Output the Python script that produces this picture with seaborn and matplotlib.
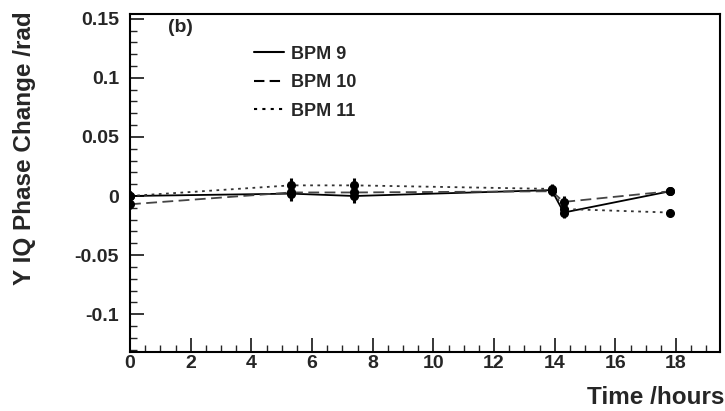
import matplotlib
matplotlib.use("Agg")
import matplotlib.pyplot as plt
import seaborn as sns
import pandas as pd
from matplotlib.ticker import MultipleLocator
from matplotlib.lines import Line2D

time_h = [0.0, 5.3, 7.4, 13.9, 14.3, 17.8]
bpm9 = [0.000, 0.002, 0.000, 0.005, -0.014, 0.004]
bpm10 = [-0.007, 0.003, 0.003, 0.004, -0.005, 0.004]
bpm11 = [0.000, 0.009, 0.009, 0.006, -0.011, -0.014]
err = [0.004, 0.006, 0.006, 0.004, 0.005, 0.003]
series_names = ["BPM 9", "BPM 10", "BPM 11"]
x_ticks = [0, 2, 4, 6, 8, 10, 12, 14, 16, 18]
y_ticks = [-0.1, -0.05, 0, 0.05, 0.1, 0.15]
y_tick_labels = ["-0.1", "-0.05", "0", "0.05", "0.1", "0.15"]

sns.set_theme(style="ticks")
plt.rcParams['font.family'] = ['Liberation Sans', 'DejaVu Sans']

df = pd.DataFrame({
    "time": time_h * 3,
    "phase": bpm9 + bpm10 + bpm11,
    "bpm": sum([[n] * len(time_h) for n in series_names], []),
})

fig = plt.figure(figsize=(7.25, 4.11), dpi=100)
# axes: x 130..720 px, y 14..352 px
ax = fig.add_axes([130 / 725, (411 - 352) / 411, 590 / 725, 338 / 411])

dashes = {"BPM 9": "", "BPM 10": (6, 3), "BPM 11": (1.5, 2.5)}
palette = {"BPM 9": "black", "BPM 10": "#444444", "BPM 11": "#333333"}
sns.lineplot(data=df, x="time", y="phase", hue="bpm", style="bpm",
             dashes=dashes, palette=palette, linewidth=1.3, ax=ax,
             legend=False, errorbar=None)

for vals in (bpm9, bpm10, bpm11):
    ax.errorbar(time_h, vals, yerr=err, fmt="o", color="black",
                markersize=5.5, elinewidth=2.2, capsize=0, zorder=5)

handles = [
    Line2D([], [], color="black", linewidth=1.5, linestyle="-"),
    Line2D([], [], color="black", linewidth=1.5, linestyle=(0, (5, 2.5))),
    Line2D([], [], color="black", linewidth=1.5, linestyle=(0, (1.5, 2.5))),
]
ax.legend(handles, series_names, loc="upper left",
          bbox_to_anchor=(0.183, 0.954), frameon=False,
          handlelength=1.65, handletextpad=0.4, labelspacing=0.63,
          prop={"weight": "bold", "size": 13})

ax.text(0.065, 0.985, "(b)", transform=ax.transAxes, fontsize=14,
        fontweight="bold", va="top", ha="left")

ax.set_xlim(0, 19.45)
ax.set_ylim(-0.132, 0.154)
ax.xaxis.set_minor_locator(MultipleLocator(0.5))
ax.yaxis.set_minor_locator(MultipleLocator(0.01))
ax.set_yticks(y_ticks)
ax.set_yticklabels(y_tick_labels)
ax.set_xticks(x_ticks)
ax.set_xticklabels([str(v) for v in x_ticks])

ax.tick_params(which="major", direction="in", length=10, width=1.3,
               labelsize=14, top=False, right=False, pad=8)
ax.tick_params(axis="x", which="major", pad=2)
ax.tick_params(which="minor", direction="in", length=5, width=1.0,
               top=False, right=False)
for lab in ax.get_xticklabels() + ax.get_yticklabels():
    lab.set_fontweight("bold")
for s in ax.spines.values():
    s.set_linewidth(1.5)
    s.set_color("black")

ax.set_xlabel("Time /hours", fontsize=17.5, fontweight="bold", loc="right")
ax.set_ylabel("Y IQ Phase Change /rad", fontsize=17.5, fontweight="bold",
              loc="top")
ax.xaxis.set_label_coords((724 - 130) / 590, (352 - 386) / 338)
ax.yaxis.set_label_coords((36 - 130) / 590, (352 - 11) / 338)

fig.savefig("out.png", dpi=100)
